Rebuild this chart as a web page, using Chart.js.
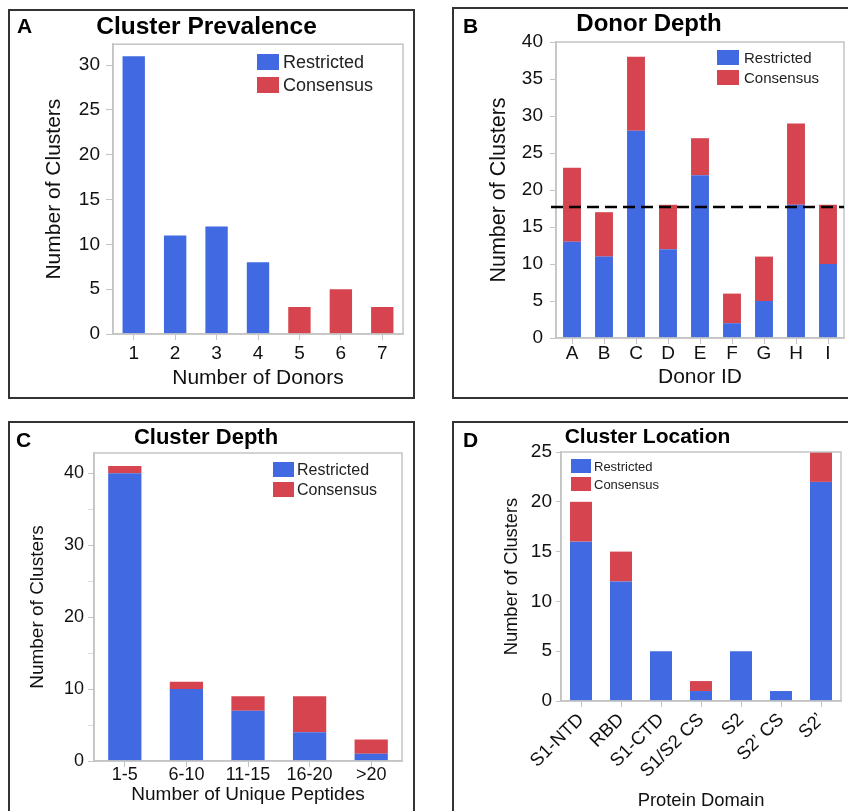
<!DOCTYPE html>
<html>
<head>
<meta charset="utf-8">
<script src="https://cdn.jsdelivr.net/npm/chart.js@4.4.0/dist/chart.umd.min.js"></script>
<style>
  html, body { margin: 0; padding: 0; background: #fff; width: 848px; height: 811px; overflow: hidden; }
  .panel { position: absolute; border: 2px solid #333; background: #fff; }
  .panel canvas { display: block; }
</style>
</head>
<body>
<div class="panel" style="left:8px;top:9px;width:403px;height:386px"><canvas id="chartA" width="403" height="386"></canvas></div>
<div class="panel" style="left:452px;top:7px;width:396px;height:388px"><canvas id="chartB" width="396" height="388"></canvas></div>
<div class="panel" style="left:8px;top:421px;width:403px;height:396px"><canvas id="chartC" width="403" height="396"></canvas></div>
<div class="panel" style="left:452px;top:421px;width:396px;height:396px"><canvas id="chartD" width="396" height="396"></canvas></div>

<script>
// A - cluster prevalence
var donorCounts = ['1', '2', '3', '4', '5', '6', '7'];
var prevalenceRestricted = [31, 11, 12, 8, null, null, null];
var prevalenceConsensus = [null, null, null, null, 3, 5, 3];

// B - donor depth
var donorIds = ['A', 'B', 'C', 'D', 'E', 'F', 'G', 'H', 'I'];
var donorRestricted = [13, 11, 28, 12, 22, 2, 5, 18, 10];
var donorConsensus = [10, 6, 10, 6, 5, 4, 6, 11, 8];
var donorCutoff = 17.7;

// C - cluster depth
var peptideBins = ['1-5', '6-10', '11-15', '16-20', '>20'];
var depthRestricted = [40, 10, 7, 4, 1];
var depthConsensus = [1, 1, 2, 5, 2];

// D - cluster location
var domains = ['S1-NTD', 'RBD', 'S1-CTD', 'S1/S2 CS', 'S2', 'S2\u2019 CS', 'S2\u2019'];
var locationRestricted = [16, 12, 5, 1, 5, 1, 22];
var locationConsensus = [4, 3, null, 1, null, null, 3];

var BLUE = '#4169E1';
var RED = '#D5444F';
var FONT = '"Liberation Sans", Arial, Helvetica, sans-serif';
var AXIS = '#c4c4c4';

// frame, panel letter, legend and the dashed line
var decor = {
    id: 'decor',
    afterDraw: function(chart, args, o) {
        var ctx = chart.ctx, a = chart.chartArea;
        ctx.save();
        ctx.strokeStyle = AXIS;
        ctx.lineWidth = 1.5;
        ctx.strokeRect(a.left, a.top, a.right - a.left, a.bottom - a.top);

        if (o.refLine != null) {
            var ly = chart.scales.y.getPixelForValue(o.refLine);
            ctx.strokeStyle = '#000';
            ctx.lineWidth = 2.5;
            ctx.setLineDash([12, 6]);
            ctx.beginPath();
            ctx.moveTo(a.left - 5, ly);
            ctx.lineTo(a.right, ly);
            ctx.stroke();
            ctx.setLineDash([]);
        }

        ctx.fillStyle = '#000';
        ctx.textAlign = 'left';
        ctx.textBaseline = 'alphabetic';
        ctx.font = 'bold ' + o.letterSize + 'px ' + FONT;
        ctx.fillText(o.letter, o.letterX, o.letterY);

        ctx.font = o.legendSize + 'px ' + FONT;
        ctx.textBaseline = 'middle';
        chart.data.datasets.forEach(function(ds, i) {
            var y = o.legendY + i * o.rowGap;
            ctx.fillStyle = ds.backgroundColor;
            ctx.fillRect(o.legendX, y, o.boxW, o.boxH);
            ctx.fillStyle = '#222';
            ctx.fillText(ds.label, o.legendX + o.boxW + o.textGap, y + o.boxH / 2 + 1);
        });
        ctx.restore();
    }
};

function makeChart(id, labels, restricted, consensus, o) {
    return new Chart(document.getElementById(id), {
        type: 'bar',
        data: {
            labels: labels,
            datasets: [
                { label: 'Restricted', data: restricted, backgroundColor: BLUE, barPercentage: o.bar, categoryPercentage: 1 },
                { label: 'Consensus', data: consensus, backgroundColor: RED, barPercentage: o.bar, categoryPercentage: 1 }
            ]
        },
        options: {
            responsive: false,
            animation: false,
            layout: { padding: { left: 0, right: o.right, top: 0, bottom: 0 } },
            plugins: {
                legend: { display: false },
                tooltip: { enabled: false },
                title: {
                    display: true,
                    text: o.title,
                    color: '#000',
                    font: { family: FONT, size: o.titleSize, weight: 'bold' },
                    padding: { top: o.titleTop, bottom: o.titleBottom }
                },
                decor: o.decor
            },
            scales: {
                x: {
                    stacked: true,
                    afterFit: function(s) { s.height = o.xHeight; },
                    grid: { offset: false, drawOnChartArea: false, color: AXIS, tickLength: 6 },
                    border: { color: AXIS, width: 1.5 },
                    ticks: {
                        color: '#111', autoSkip: false, padding: o.xTickPad,
                        minRotation: o.rot, maxRotation: o.rot,
                        font: { family: FONT, size: o.xTickSize }
                    },
                    title: {
                        display: true, text: o.xTitle, color: '#111',
                        font: { family: FONT, size: o.xTitleSize },
                        padding: { top: 0, bottom: o.xTitlePad }
                    }
                },
                y: {
                    stacked: true,
                    min: 0,
                    max: o.yMax,
                    bounds: 'data',
                    afterFit: function(s) { s.width = o.yWidth; },
                    grid: {
                        drawOnChartArea: false, tickLength: o.yTickLen,
                        color: function(c) { return (o.minor && c.tick && c.tick.value % 10) ? '#dcdcdc' : AXIS; }
                    },
                    border: { color: AXIS, width: 1.5 },
                    ticks: {
                        stepSize: 5, includeBounds: false, color: '#111', padding: o.yTickPad,
                        font: { family: FONT, size: o.yTickSize },
                        callback: function(v) { return (o.minor && v % 10) ? '' : v; }
                    },
                    title: {
                        display: true, text: 'Number of Clusters', color: '#111',
                        font: { family: FONT, size: o.yTitleSize },
                        padding: { top: o.yTitlePad, bottom: 0 }
                    }
                }
            }
        },
        plugins: [decor]
    });
}

makeChart('chartA', donorCounts, prevalenceRestricted, prevalenceConsensus, {
    title: 'Cluster Prevalence', titleSize: 24.5, titleTop: 1.6, titleBottom: 2.2,
    right: 10, bar: 0.54, rot: 0,
    xHeight: 63, xTickPad: 2, xTickSize: 19, xTitle: 'Number of Donors', xTitleSize: 21, xTitlePad: 6,
    yMax: 32.34, yWidth: 103, yTickLen: 7, yTickPad: 6, yTickSize: 19, yTitleSize: 21, yTitlePad: 32,
    decor: { letter: 'A', letterSize: 21, letterX: 7, letterY: 22,
             legendX: 247, legendY: 43, boxW: 22, boxH: 16, rowGap: 23, legendSize: 18, textGap: 4 }
});

makeChart('chartB', donorIds, donorRestricted, donorConsensus, {
    title: 'Donor Depth', titleSize: 24, titleTop: 1, titleBottom: 3.2,
    right: 6, bar: 0.56, rot: 0,
    xHeight: 59, xTickPad: -2, xTickSize: 19, xTitle: 'Donor ID', xTitleSize: 21, xTitlePad: 7,
    yMax: 40, yWidth: 102, yTickLen: 6, yTickPad: 7, yTickSize: 19, yTitleSize: 21.5, yTitlePad: 32,
    decor: { letter: 'B', letterSize: 21, letterX: 9, letterY: 24, refLine: donorCutoff,
             legendX: 263, legendY: 41, boxW: 22, boxH: 15, rowGap: 20, legendSize: 15, textGap: 5 }
});

makeChart('chartC', peptideBins, depthRestricted, depthConsensus, {
    title: 'Cluster Depth', titleSize: 22, titleTop: 1.8, titleBottom: 1.8,
    right: 11, bar: 0.54, rot: 0, minor: true,
    xHeight: 58, xTickPad: -3, xTickSize: 18, xTitle: 'Number of Unique Peptides', xTitleSize: 19, xTitlePad: 13,
    yMax: 42.8, yWidth: 84, yTickLen: 6, yTickPad: 4, yTickSize: 18, yTitleSize: 19, yTitlePad: 16.6,
    decor: { letter: 'C', letterSize: 21, letterX: 6, letterY: 24,
             legendX: 263, legendY: 39, boxW: 21, boxH: 15, rowGap: 20, legendSize: 16, textGap: 3 }
});

makeChart('chartD', domains, locationRestricted, locationConsensus, {
    title: 'Cluster Location', titleSize: 21, titleTop: 1.4, titleBottom: 2.4,
    right: 9, bar: 0.55, rot: 45,
    xHeight: 118, xTickPad: 2, xTickSize: 18.5, xTitle: 'Protein Domain', xTitleSize: 18.4, xTitlePad: 7,
    yMax: 25, yWidth: 107, yTickLen: 5, yTickPad: 4, yTickSize: 19, yTitleSize: 18.3, yTitlePad: 47,
    decor: { letter: 'D', letterSize: 21, letterX: 9, letterY: 24,
             legendX: 117, legendY: 36, boxW: 20, boxH: 14, rowGap: 18, legendSize: 13, textGap: 3 }
});
</script>
</body>
</html>
